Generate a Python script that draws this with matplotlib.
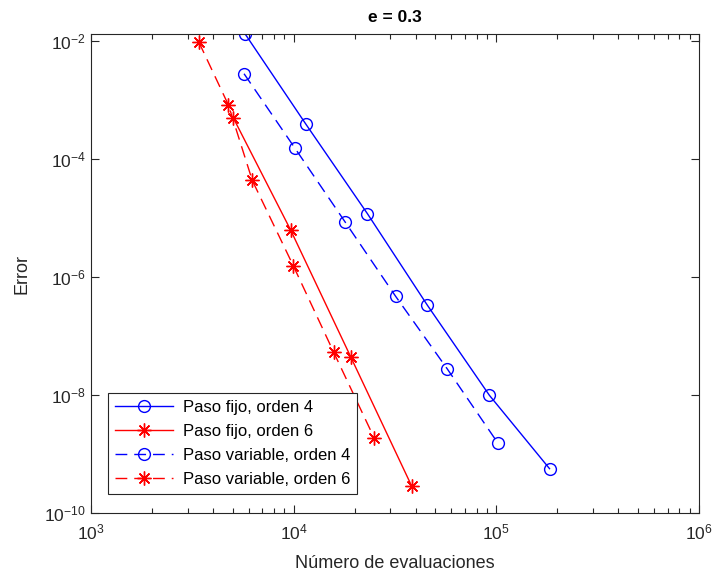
import matplotlib

matplotlib.use("Agg")

import numpy as np
from matplotlib import pyplot as plt
from matplotlib.ticker import LogLocator, LogFormatterMathtext, NullLocator, NullFormatter

plt.rcParams.update(
    {
        "font.family": ["Liberation Sans", "DejaVu Sans"],
        "mathtext.default": "regular",
        "font.size": 11,
        "axes.linewidth": 0.8,
        "axes.edgecolor": "#262626",
        "xtick.color": "#262626",
        "ytick.color": "#262626",
        "xtick.labelcolor": "#262626",
        "ytick.labelcolor": "#262626",
    }
)

# Paso fijo, orden 4
fijo4_evals = [5780, 11500, 23100, 45700, 92400, 183000]
fijo4_error = [1.28e-2, 3.84e-4, 1.18e-5, 3.30e-7, 9.86e-9, 5.64e-10]

# Paso fijo, orden 6
fijo6_evals = [5040, 9660, 19100, 38200]
fijo6_error = [4.91e-4, 6.22e-6, 4.45e-8, 2.87e-10]

# Paso variable, orden 4
var4_evals = [5690, 10110, 17990, 31840, 57300, 101900]
var4_error = [2.76e-3, 1.54e-4, 8.39e-6, 4.69e-7, 2.75e-8, 1.52e-9]

# Paso variable, orden 6
var6_evals = [3410, 4765, 6250, 9970, 15740, 25000]
var6_error = [9.40e-3, 8.15e-4, 4.29e-5, 1.53e-6, 5.33e-8, 1.85e-9]

labels = [
    "Paso fijo, orden 4",
    "Paso fijo, orden 6",
    "Paso variable, orden 4",
    "Paso variable, orden 6",
]

fig = plt.figure(figsize=(7.13, 5.79), dpi=100)
ax = fig.add_axes([91 / 713, 1 - 513 / 579, 608 / 713, 479 / 579])

asterisk = (8, 2, 0)
dash = (0, (8.5, 5))
ax.plot(fijo4_evals, fijo4_error, color="blue", linewidth=1.0, marker="o",
        markersize=8.5, markerfacecolor="none", markeredgewidth=1.0, label=labels[0])
ax.plot(fijo6_evals, fijo6_error, color="red", linewidth=1.0, marker=asterisk,
        markersize=10, markeredgewidth=1.0, label=labels[1])
ax.plot(var4_evals, var4_error, color="blue", linewidth=1.0, linestyle=dash, marker="o",
        markersize=8.5, markerfacecolor="none", markeredgewidth=1.0, label=labels[2])
ax.plot(var6_evals, var6_error, color="red", linewidth=1.0, linestyle=dash, marker=asterisk,
        markersize=10, markeredgewidth=1.0, label=labels[3])

ax.set_xscale("log")
ax.set_yscale("log")
ax.set_xlim(1e3, 1e6)
ax.set_ylim(1e-10, 1.3e-2)

ax.xaxis.set_major_locator(LogLocator(base=10, numticks=10))
ax.xaxis.set_minor_locator(LogLocator(base=10, subs=np.arange(2, 10), numticks=20))
ax.xaxis.set_minor_formatter(NullFormatter())
ax.yaxis.set_major_locator(LogLocator(base=100, numticks=10))
ax.yaxis.set_major_formatter(LogFormatterMathtext(base=10))
ax.yaxis.set_minor_locator(NullLocator())

ax.tick_params(which="both", direction="in", top=True, right=True, labelsize=12.5)
ax.tick_params(which="major", length=6, width=0.8)
ax.tick_params(which="minor", length=3.5, width=0.8)
ax.tick_params(axis="x", pad=7)

ax.set_xlabel("Número de evaluaciones", fontsize=13, color="#262626", labelpad=9)
ax.set_ylabel("Error", fontsize=13, color="#262626", labelpad=10)
ax.set_title("e = 0.3", fontsize=12.5, fontweight="bold", pad=9)

leg = ax.legend(
    loc="lower left",
    bbox_to_anchor=(0.028, 0.04),
    borderaxespad=0,
    fontsize=12,
    fancybox=False,
    framealpha=1,
    edgecolor="#262626",
    handlelength=3.5,
    handletextpad=0.6,
    labelspacing=0.55,
    borderpad=0.4,
)
leg.get_frame().set_linewidth(0.8)

fig.savefig("out.png", dpi=100)
